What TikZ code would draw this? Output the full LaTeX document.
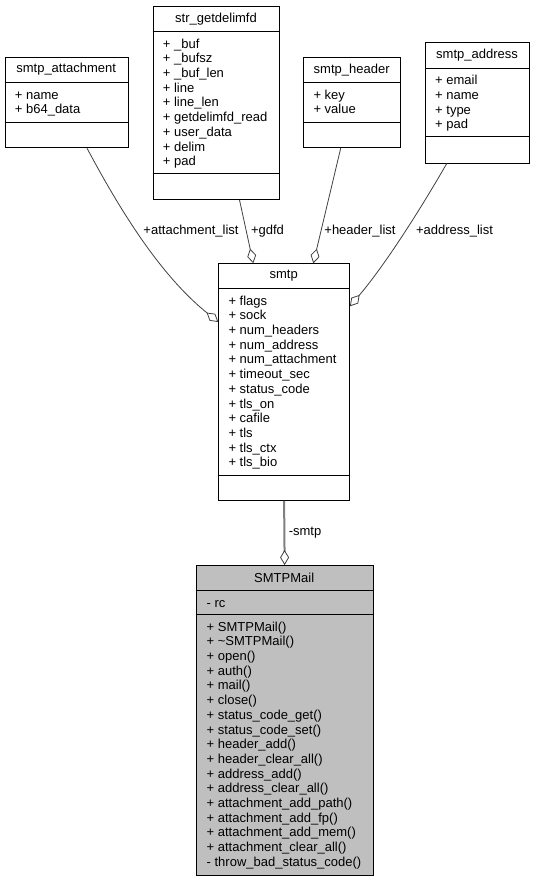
\documentclass[tikz,border=0pt]{standalone}
\usepackage{fontspec}
\setmainfont{Liberation Sans}
\usetikzlibrary{arrows.meta,calc}
\newcommand\umlbox[8][]{% #1 style, #2 name, #3 left, #4 top, #5 right, #6 bottom, #7 div1, #8 div2
  \node[classbox, #1, minimum width={#5-#3}, minimum height={#6-#4}, anchor=north west] (#2) at (#3,#4) {};
  \draw[classline] (#3,#7) -- (#5,#7) (#3,#8) -- (#5,#8);
}
\newcommand\umltitle[5]{% #1 name, #2 left, #3 right, #4 center y, #5 text
  \node[ctitle] (#1) at ({(#2+#3)/2},#4) {#5};
}
\newcommand\umlmembers[4]{% #1 prefix, #2 x, #3 first baseline, #4 list
  \foreach \t [count=\i from 0] in {#4} {\node[member] (#1-\i) at (#2,{#3+14.7*\i}) {\t};}
}
\begin{document}
\begin{tikzpicture}[x=1pt,y=-1pt,
  font=\fontsize{13}{14.7}\selectfont,
  classbox/.style={draw=black, line width=0.9pt, inner sep=0pt, fill=white},
  classline/.style={draw=black, line width=0.9pt},
  member/.style={anchor=base west, inner sep=0pt},
  ctitle/.style={inner sep=0pt},
  rel/.style={draw=black!75, line width=0.8pt, -{Diamond[open,length=15pt,width=9pt]}},
  relmain/.style={draw=black!50, line width=2pt, -{Diamond[open,length=15pt,width=9pt,color=black!75,line width=0.8pt]}},
  elabel/.style={anchor=base, inner sep=0pt}]
\useasboundingbox (0,0) rectangle (535,881);

% smtp_attachment
\umlbox{att}{4.7}{56.7}{127.7}{147.3}{82.3}{122.3}
\umltitle{att-t}{4.7}{127.7}{69.5}{smtp\_attachment}
\umlmembers{att-m}{14.7}{99.1}{+ name, + b64\_data}

% str_getdelimfd
\umlbox{gdf}{152.7}{6}{279.3}{199}{31.3}{173.3}
\umltitle{gdf-t}{152.7}{279.3}{18.7}{str\_getdelimfd}
\umlmembers{gdf-m}{162.7}{48.1}{+ \_buf, + \_bufsz, + \_buf\_len, + line, + line\_len, + getdelimfd\_read, + user\_data, + delim, + pad}

% smtp_header
\umlbox{hdr}{303.3}{57.3}{400}{147.3}{82.3}{122.3}
\umltitle{hdr-t}{303.3}{400}{69.8}{smtp\_header}
\umlmembers{hdr-m}{313.3}{99.1}{+ key, + value}

% smtp_address
\umlbox{addr}{425}{42.3}{529}{162.7}{68}{136.7}
\umltitle{addr-t}{425}{529}{55.2}{smtp\_address}
\umlmembers{addr-m}{435}{84.8}{+ email, + name, + type, + pad}

% smtp
\umlbox{smtp}{218.3}{263.3}{349}{500}{288.3}{475.7}
\umltitle{smtp-t}{218.3}{349}{275.8}{smtp}
\umlmembers{smtp-m}{228.3}{305.1}{+ flags, + sock, + num\_headers, + num\_address, + num\_attachment, + timeout\_sec, + status\_code, + tls\_on, + cafile, + tls, + tls\_ctx, + tls\_bio}

% SMTPMail
\umlbox[fill=black!25]{mail}{195.7}{565}{372.7}{875}{590.7}{614.3}
\umltitle{mail-t}{195.7}{372.7}{577.8}{SMTPMail}
\umlmembers{mail-a}{206.5}{607}{- rc}
\umlmembers{mail-m}{206.5}{631.1}{+ SMTPMail(), + \textasciitilde SMTPMail(), + open(), + auth(), + mail(), + close(), + status\_code\_get(), + status\_code\_set(), + header\_add(), + header\_clear\_all(), + address\_add(), + address\_clear\_all(), + attachment\_add\_path(), + attachment\_add\_fp(), + attachment\_add\_mem(), + attachment\_clear\_all(), - throw\_bad\_status\_code()}

% connectors
\draw[rel] ($(att.south west)+(82.3,0)$) .. controls (120,210) and (160,275) .. ($(smtp.north west)+(0,58.7)$);
\draw[rel] ($(gdf.south west)+(86.8,0)$) -- ($(smtp.north west)+(35,0)$);
\draw[rel] ($(hdr.south west)+(37.4,0)$) -- ($(smtp.north west)+(95,0)$);
\draw[rel] ($(addr.south west)+(21.7,0)$) .. controls (420,210) and (385,265) .. ($(smtp.north east)+(0,43)$);
\draw[relmain] (smtp.south) -- (mail.north);

% labels
\node[elabel] (l-att) at (191,234.5) {+attachment\_list};
\node[elabel] (l-gdf) at (267.5,234.5) {+gdfd};
\node[elabel] (l-hdr) at (360,234.5) {+header\_list};
\node[elabel] (l-addr) at (454.5,234.5) {+address\_list};
\node[elabel] (l-smtp) at (305,535.5) {-smtp};
\end{tikzpicture}
\end{document}
